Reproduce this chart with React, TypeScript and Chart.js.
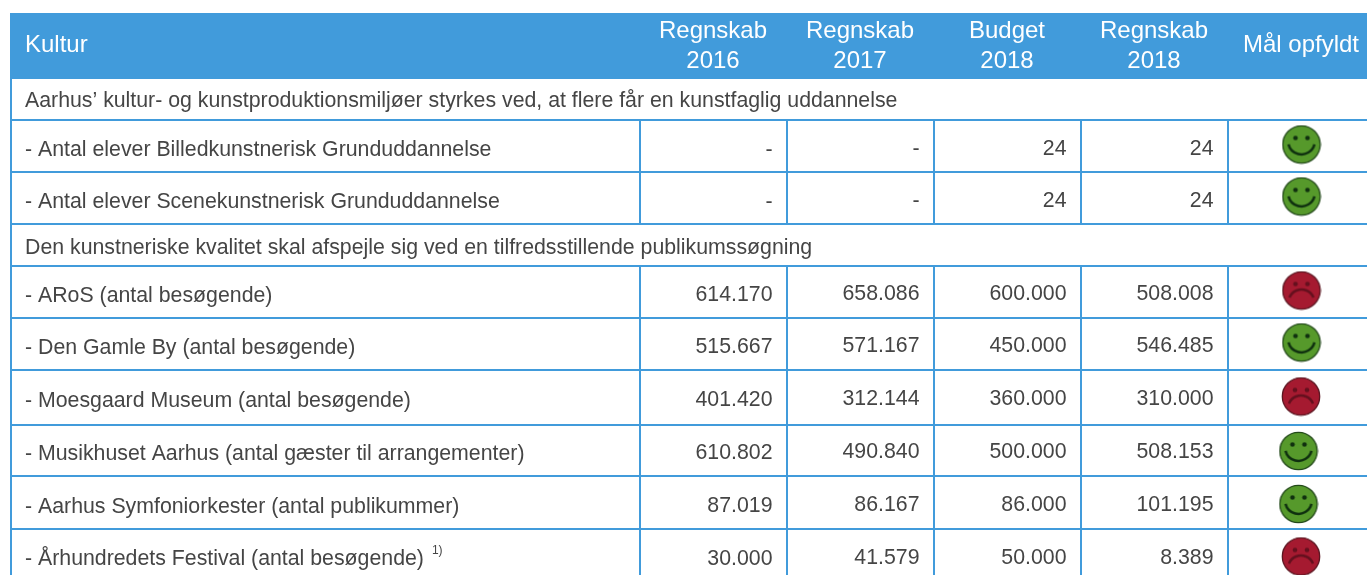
import React, { useEffect, useRef } from "react";
import { Chart, registerables } from "chart.js";

Chart.register(...registerables);

const headerTitle = "Kultur";
const columnHeaders = [
  ["Regnskab", "2016"],
  ["Regnskab", "2017"],
  ["Budget", "2018"],
  ["Regnskab", "2018"],
  ["Mål opfyldt"],
];
const sectionLabels = [
  "Aarhus’ kultur- og kunstproduktionsmiljøer styrkes ved, at flere får en kunstfaglig uddannelse",
  "Den kunstneriske kvalitet skal afspejle sig ved en tilfredsstillende publikumssøgning",
];
const rowLabels = [
  "- Antal elever Billedkunstnerisk Grunduddannelse",
  "- Antal elever Scenekunstnerisk Grunduddannelse",
  "- ARoS (antal besøgende)",
  "- Den Gamle By (antal besøgende)",
  "- Moesgaard Museum (antal besøgende)",
  "- Musikhuset Aarhus (antal gæster til arrangementer)",
  "- Aarhus Symfoniorkester (antal publikummer)",
  "- Århundredets Festival (antal besøgende)",
];
const footnotes = ["", "", "", "", "", "", "", "1)"];
const regnskab2016 = [null, null, 614170, 515667, 401420, 610802, 87019, 30000];
const regnskab2017 = [null, null, 658086, 571167, 312144, 490840, 86167, 41579];
const budget2018 = [24, 24, 600000, 450000, 360000, 500000, 86000, 50000];
const regnskab2018 = [24, 24, 508008, 546485, 310000, 508153, 101195, 8389];
const goalMet = [true, true, false, true, false, true, true, false];

// Layout of the table grid, in page pixels.
const W = 1367;
const H = 575;
const BLUE = "#419bdb";
const INK = "#454545";
const FONT = '"Liberation Sans", Arial, sans-serif';
const gridLeft = 10;
const headerTop = 13;
const headerBottom = 79;
const columnEdges = [640, 787, 934, 1081, 1228];
const rowLines = [120, 172, 224, 266, 318, 370, 425, 476, 529];
const labelCenters = [150, 202, 296, 348, 401, 454, 507, 559];
const valueCenters = [149, 201, 294, 346, 399, 452, 505, 558];
const sectionCenters = [101, 248];
const columnOffsets = [1.5, 0, 0, 0];
const smileyXs = [1301.5, 1301.5, 1301.5, 1301.5, 1301, 1298.5, 1298.5, 1301];
const smileyYs = [144.5, 196.5, 290.5, 342.5, 396.5, 451, 504, 556.5];

const makeFace = (happy: boolean) => {
  const c = document.createElement("canvas");
  c.width = 40;
  c.height = 40;
  const g = c.getContext("2d")!;
  g.beginPath();
  g.arc(20, 20, 18.7, 0, Math.PI * 2);
  g.fillStyle = happy ? "#56992b" : "#a51a30";
  g.fill();
  g.lineWidth = 1.3;
  g.strokeStyle = happy ? "#23491a" : "#5c1722";
  g.stroke();
  g.fillStyle = happy ? "#10300f" : "#65101e";
  for (const ex of [14, 26]) {
    g.beginPath();
    g.arc(ex, 13.5, 2.3, 0, Math.PI * 2);
    g.fill();
  }
  g.lineWidth = 2.5;
  g.strokeStyle = happy ? "#0f300f" : "#65101e";
  g.beginPath();
  if (happy) g.arc(20, 16.5, 13.4, Math.PI * 0.08, Math.PI * 0.92);
  else g.arc(20, 32, 13, Math.PI * 1.125, Math.PI * 1.875);
  g.stroke();
  return c;
};

const formatValue = (v: number | null) =>
  v === null ? "-" : String(v).replace(/\B(?=(\d{3})+(?!\d))/g, ".");

const tablePlugin = {
  id: "table",
  beforeDatasetsDraw(chart: any) {
    const { ctx, scales } = chart;
    const px = (v: number) => scales.x.getPixelForValue(v);
    const py = (v: number) => scales.y.getPixelForValue(v);
    ctx.save();
    ctx.fillStyle = BLUE;
    ctx.fillRect(px(gridLeft), py(headerTop), W, py(headerBottom) - py(headerTop));
    ctx.strokeStyle = BLUE;
    ctx.lineWidth = 2;
    for (const y of rowLines) {
      ctx.beginPath();
      ctx.moveTo(px(gridLeft), py(y));
      ctx.lineTo(px(W), py(y));
      ctx.stroke();
    }
    ctx.beginPath();
    ctx.moveTo(px(gridLeft + 1), py(headerBottom));
    ctx.lineTo(px(gridLeft + 1), py(H));
    ctx.stroke();
    for (const x of columnEdges) {
      for (const [a, b] of [[rowLines[0], rowLines[2]], [rowLines[3], H]]) {
        ctx.beginPath();
        ctx.moveTo(px(x), py(a));
        ctx.lineTo(px(x), py(b));
        ctx.stroke();
      }
    }
    ctx.textBaseline = "middle";
    ctx.fillStyle = "#ffffff";
    ctx.font = `24px ${FONT}`;
    ctx.textAlign = "left";
    ctx.fillText(headerTitle, px(25), py(45));
    ctx.textAlign = "center";
    const centers = [713, 860, 1007, 1154, 1301];
    columnHeaders.forEach((lines, i) => {
      if (lines.length === 1) ctx.fillText(lines[0], px(centers[i]), py(45));
      else {
        ctx.fillText(lines[0], px(centers[i]), py(31));
        ctx.fillText(lines[1], px(centers[i]), py(61.5));
      }
    });
    ctx.fillStyle = INK;
    ctx.font = `21.3px ${FONT}`;
    ctx.textAlign = "left";
    sectionLabels.forEach((t, i) => ctx.fillText(t, px(25), py(sectionCenters[i])));
    rowLabels.forEach((t, i) => {
      ctx.font = `21.3px ${FONT}`;
      ctx.fillText(t, px(25), py(labelCenters[i]));
      if (footnotes[i]) {
        const w = ctx.measureText(t).width;
        ctx.font = `12px ${FONT}`;
        ctx.fillText(footnotes[i], px(25 + w + 8), py(labelCenters[i] - 8));
      }
    });
    ctx.restore();
  },
  afterDatasetsDraw(chart: any) {
    const { ctx } = chart;
    ctx.save();
    ctx.fillStyle = INK;
    ctx.font = `21.3px ${FONT}`;
    ctx.textAlign = "right";
    ctx.textBaseline = "middle";
    chart.data.datasets.forEach((ds: any, i: number) => {
      if (!ds.isValueColumn) return;
      chart.getDatasetMeta(i).data.forEach((pt: any, j: number) => {
        ctx.fillText(formatValue(ds.values[j]), pt.x, pt.y);
      });
    });
    ctx.restore();
  },
};

const valueColumn = (label: string, values: (number | null)[], col: number) => ({
  label,
  isValueColumn: true,
  values,
  pointRadius: 0,
  data: values.map((_, j) => ({
    x: columnEdges[col + 1] - 14.5,
    y: valueCenters[j] + columnOffsets[col],
  })),
});

export default function App() {
  const ref = useRef<HTMLCanvasElement>(null);
  useEffect(() => {
    document.body.style.margin = "0";
    const faces = { happy: makeFace(true), sad: makeFace(false) };
    const chart = new Chart(ref.current!, {
      type: "scatter",
      data: {
        datasets: [
          valueColumn("Regnskab 2016", regnskab2016, 0),
          valueColumn("Regnskab 2017", regnskab2017, 1),
          valueColumn("Budget 2018", budget2018, 2),
          valueColumn("Regnskab 2018", regnskab2018, 3),
          {
            label: "Mål opfyldt",
            data: goalMet.map((_, j) => ({ x: smileyXs[j], y: smileyYs[j] })),
            pointStyle: goalMet.map((g) => (g ? faces.happy : faces.sad)),
            pointRadius: 20,
            clip: false,
          },
        ] as any,
      },
      options: {
        responsive: false,
        animation: false,
        layout: { padding: 0, autoPadding: false },
        plugins: { legend: { display: false }, tooltip: { enabled: false } },
        scales: {
          x: { type: "linear", display: false, min: 0, max: W },
          y: { type: "linear", display: false, min: 0, max: H, reverse: true },
        },
      },
      plugins: [tablePlugin],
    } as any);
    return () => chart.destroy();
  }, []);
  return (
    <div style={{ position: "absolute", left: 0, top: 0, width: W, height: H, overflow: "hidden" }}>
      <canvas ref={ref} width={W} height={H} style={{ display: "block" }} />
    </div>
  );
}
